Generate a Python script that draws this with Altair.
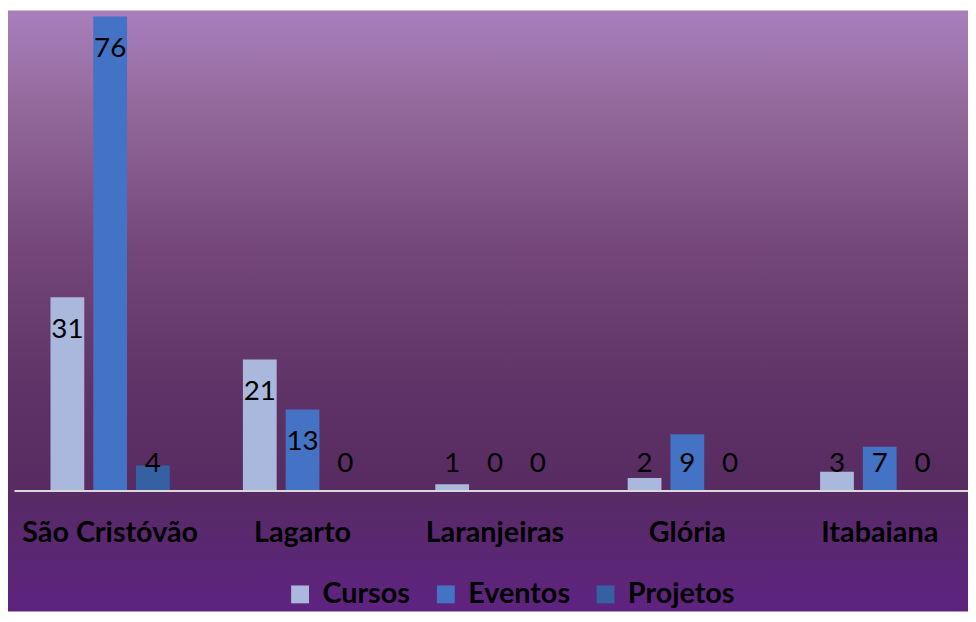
import altair as alt
import pandas as pd

cities = ["São Cristóvão", "Lagarto", "Laranjeiras", "Glória", "Itabaiana"]
series = ["Cursos", "Eventos", "Projetos"]
cursos = [31, 21, 1, 2, 3]
eventos = [76, 13, 0, 9, 7]
projetos = [4, 0, 0, 0, 0]
colors = ["#a9b8dc", "#4472c4", "#3561a3"]

rows = []
for i, c in enumerate(cities):
    for s, vals in zip(series, [cursos, eventos, projetos]):
        rows.append({"city": c, "series": s, "value": vals[i]})
df = pd.DataFrame(rows)

W, H = 962, 478
FONT = "Lato"

gradient = alt.Gradient(
    gradient="linear", x1=0, y1=0, x2=0, y2=1,
    stops=[
        alt.GradientStop(color="#a87fbb", offset=0.0),
        alt.GradientStop(color="#93699c", offset=0.16),
        alt.GradientStop(color="#74467a", offset=0.40),
        alt.GradientStop(color="#5e3266", offset=0.64),
        alt.GradientStop(color="#582b62", offset=0.79),
        alt.GradientStop(color="#5a2773", offset=0.90),
        alt.GradientStop(color="#5e2380", offset=1.0),
    ],
)

bg = alt.Chart(pd.DataFrame({"k": [0]})).mark_rect(color=gradient).encode(
    x=alt.value(-6), x2=alt.value(W), y=alt.value(-6), y2=alt.value(H + 122)
)

xenc = alt.X(
    "city:N", sort=cities,
    scale=alt.Scale(range=[0, 970], paddingInner=0.38, paddingOuter=0.19),
    axis=alt.Axis(title=None, labelAngle=0, ticks=False, domainColor="#d9d9d9",
                  domainWidth=2, labelFont=FONT, labelFontSize=29,
                  labelFontWeight="bold", labelColor="#000000", labelPadding=28,
                  zindex=1),
)
xoff = alt.XOffset("series:N", sort=series,
                   scale=alt.Scale(paddingInner=0.21, paddingOuter=0))
yscale = alt.Scale(domain=[0, 76], nice=False, zero=True)

base = alt.Chart(df)

bars = base.mark_bar().encode(
    x=xenc,
    xOffset=xoff,
    y=alt.Y("value:Q", scale=yscale, axis=None),
    color=alt.Color(
        "series:N", sort=series,
        scale=alt.Scale(domain=series, range=colors),
        legend=alt.Legend(title=None, orient="none", direction="horizontal",
                          legendX=274, legendY=568, symbolType="square",
                          symbolSize=324, symbolStrokeWidth=0, symbolOpacity=1,
                          labelFont=FONT, labelFontSize=29, labelFontWeight="bold",
                          labelColor="#000000", columnPadding=21, labelOffset=8,
                          padding=0),
    ),
)

labels = base.transform_calculate(
    lab="max(datum.value - 5.25, 4.3)"
).mark_text(font=FONT, fontSize=28, color="#000000", baseline="middle").encode(
    x=xenc,
    xOffset=xoff,
    y=alt.Y("lab:Q", scale=yscale, axis=None),
    text="value:Q",
)

chart = alt.layer(bg, bars, labels).properties(
    width=W, height=H,
    autosize=alt.AutoSizeParams(type="none"),
    padding={"left": 6, "top": 6, "right": 0, "bottom": 122},
).configure_view(stroke=None)

chart.save("out.html", embed_options={"renderer": "svg", "actions": False})
